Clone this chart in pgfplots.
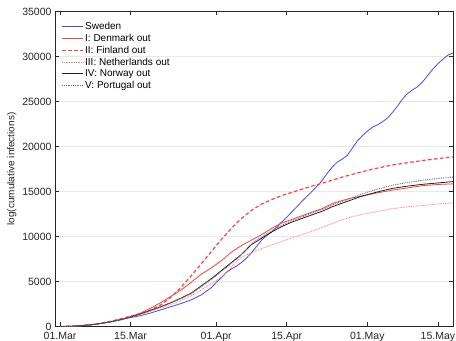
\documentclass[border=0pt]{standalone}
\usepackage{fontspec}
\setmainfont{Liberation Sans}
\usepackage{pgfplots}
\pgfplotsset{compat=1.18}

\definecolor{swblue}{rgb}{0.28,0.28,1}
\definecolor{outred}{rgb}{1,0.25,0.25}
\definecolor{outpink}{rgb}{1,0.45,0.45}
\definecolor{outblack}{rgb}{0.12,0.12,0.12}
\definecolor{outgray}{rgb}{0.45,0.45,0.45}
\definecolor{framegray}{rgb}{0.15,0.15,0.15}

\newcommand{\lstrut}{\vphantom{Ipg}}

\begin{document}
\begin{tikzpicture}
\begin{axis}[
  scale only axis,
  width=398pt, height=315pt,
  xmin=-1, xmax=78,
  ymin=0, ymax=35000,
  xtick={0,14,31,45,61,75},
  xticklabels={01.Mar,15.Mar,01.Apr,15.Apr,01.May,15.May},
  ytick={0,5000,...,35000},
  scaled y ticks=false,
  /pgf/number format/1000 sep={},
  /pgf/number format/assume math mode=true,
  tick label style={font=\fontsize{10.5}{12}\selectfont, text=black!85},
  tick align=inside,
  major tick length=4pt,
  tick style={framegray, line width=0.6pt},
  axis line style={framegray, line width=0.6pt},
  ymajorgrids,
  grid style={black!9, line width=1pt},
  ylabel={log(cumulative infections)},
  ylabel style={font=\fontsize{10}{12}\selectfont, text=black!85, yshift=-1pt},
  xticklabel style={yshift=-2pt},
  legend cell align=left,
  legend style={at={(0.014,0.975)}, anchor=north west, draw=none, fill=none,
    font=\fontsize{10}{12}\selectfont,
    row sep=0.4pt, inner sep=1pt,
    nodes={inner sep=1.4pt}},
  legend image code/.code={\draw[line width=1pt, #1] (0pt,0pt) -- (21pt,0pt);},
]

% Sweden
\addplot[color=swblue, line width=0.8pt] table {
x y
0 0
2 20
4 80
6 170
8 320
10 500
12 730
14 1000
16 1200
18 1500
20 1850
22 2200
24 2550
26 2950
28 3500
30 4300
31 4900
32 5400
33 6000
34 6400
35 6700
36 7100
37 7600
38 8200
39 8900
40 9600
41 10100
42 10500
44 11600
45 12150
47 13300
48 13900
50 15000
51 15600
52 16200
53 17000
54 17700
55 18250
56 18600
57 19000
58 19800
59 20600
60 21200
61 21700
62 22150
63 22400
64 22750
65 23150
66 23800
67 24500
68 25300
69 25900
70 26300
71 26650
72 27200
73 27900
74 28600
75 29200
76 29700
77 30150
78 30400
};
\addlegendentry{\lstrut Sweden}

% I: Denmark out
\addplot[color=outred, line width=0.8pt] table {
x y
0 0
2 25
4 90
6 190
8 340
10 540
12 790
14 1100
16 1500
18 2050
20 2650
22 3350
24 4050
26 4900
28 5800
30 6500
32 7300
34 8250
36 9000
38 9600
40 10200
42 10900
44 11500
46 11900
48 12300
50 12700
52 13100
54 13650
56 14000
58 14300
60 14500
63 14850
66 15150
69 15400
72 15650
75 15780
78 15850
};
\addlegendentry{\lstrut I: Denmark out}

% II: Finland out
\addplot[color=outred, line width=1.2pt, dash pattern=on 3.5pt off 2.5pt] table {
x y
0 0
2 25
4 95
6 200
8 360
10 570
12 850
14 1150
16 1450
18 1850
20 2400
22 3250
24 4350
26 5600
28 6950
30 8300
32 9650
34 10900
36 12000
38 12900
40 13600
42 14100
44 14550
46 14900
48 15250
50 15600
52 15900
54 16250
56 16600
58 16900
60 17200
63 17600
66 17950
69 18200
72 18450
75 18650
78 18850
};
\addlegendentry{\lstrut II: Finland out}

% III: Netherlands out
\addplot[color=outpink, line width=0.8pt, dash pattern=on 0.8pt off 0.9pt] table {
x y
0 0
2 20
4 85
6 180
8 330
10 520
12 760
14 1050
16 1350
18 1700
20 2050
22 2450
24 2900
26 3400
28 4050
30 4750
32 5500
33 6000
34 6600
35 7200
36 7700
38 8200
40 8650
42 9050
44 9450
46 9850
48 10200
50 10600
52 11000
54 11450
56 11850
58 12200
60 12450
63 12800
66 13100
69 13300
72 13450
75 13600
78 13750
};
\addlegendentry{\lstrut III: Netherlands out}

% IV: Norway out
\addplot[color=outblack, line width=0.8pt] table {
x y
0 0
2 20
4 85
6 180
8 330
10 520
12 760
14 1050
16 1400
18 1800
20 2200
22 2650
24 3150
26 3700
28 4500
30 5300
32 6200
34 7100
36 8000
38 9100
40 9800
42 10500
44 11100
46 11600
48 12000
50 12400
52 12800
54 13300
56 13700
58 14100
60 14500
63 14950
66 15350
69 15600
72 15800
75 15950
78 16100
};
\addlegendentry{\lstrut IV: Norway out}

% V: Portugal out
\addplot[color=outgray, line width=0.9pt, dash pattern=on 0.9pt off 0.9pt] table {
x y
0 0
2 20
4 85
6 180
8 330
10 520
12 760
14 1050
16 1380
18 1770
20 2170
22 2620
24 3100
26 3650
28 4400
30 5200
32 6100
34 7000
36 7950
38 9200
40 9950
42 10650
44 11250
46 11750
48 12150
50 12600
52 13000
54 13500
56 13900
58 14300
60 14750
63 15250
66 15700
69 16000
72 16250
75 16450
78 16600
};
\addlegendentry{\lstrut V: Portugal out}

\end{axis}
\pgfresetboundingbox
\path (current axis.south west) ++(-55pt,-14.5pt) coordinate (bbsw);
\path (current axis.north east) ++(3pt,11.5pt) coordinate (bbne);
\path (bbsw) rectangle (bbne);
\end{tikzpicture}
\end{document}
